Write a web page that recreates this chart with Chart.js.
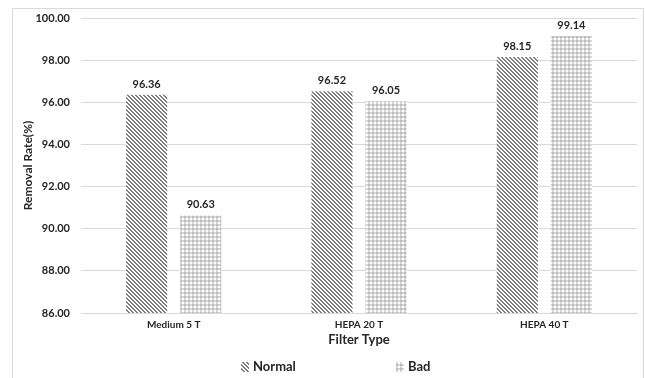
<!DOCTYPE html>
<html><head><meta charset="utf-8">
<script src="https://cdn.jsdelivr.net/npm/chart.js@4"></script>
<style>html,body{margin:0;padding:0;background:#fff;}#wrap{width:645px;height:378px;position:relative;}</style>
</head><body><div id="wrap"><canvas id="c" width="645" height="378"></canvas></div>
<script>
const categories = ["Medium 5 T", "HEPA 20 T", "HEPA 40 T"];
const normalValues = [96.36, 96.52, 98.15];
const badValues = [90.63, 96.05, 99.14];
const seriesNames = ["Normal", "Bad"];
const yTicks = [86, 88, 90, 92, 94, 96, 98, 100];

const FONT = "Lato, 'Liberation Sans', sans-serif";

function makeDiag() {
  const c = document.createElement('canvas'); c.width = 4; c.height = 4;
  const x = c.getContext('2d');
  x.fillStyle = '#ffffff'; x.fillRect(0,0,4,4);
  x.fillStyle = '#7f7f7f';
  for (let i = 0; i < 4; i++) { x.fillRect(i, i, 1, 1); x.fillRect((i+1)%4, i, 1, 1); }
  return x.createPattern(c, 'repeat');
}
function makeGrid() {
  const c = document.createElement('canvas'); c.width = 4; c.height = 4;
  const x = c.getContext('2d');
  x.fillStyle = '#ffffff'; x.fillRect(0,0,4,4);
  x.fillStyle = '#d6d6d6';
  x.fillRect(0,0,4,2); x.fillRect(0,0,2,4);
  x.fillStyle = '#bcbcbc'; x.fillRect(0,0,2,2);
  return x.createPattern(c, 'repeat');
}
const diag = makeDiag();
const grid = makeGrid();
const fills = [diag, grid];

const borderPlugin = {
  id: 'outerBorder',
  beforeDraw(chart) {
    const ctx = chart.ctx;
    ctx.save();
    ctx.strokeStyle = '#d9d9d9'; ctx.lineWidth = 1;
    ctx.strokeRect(12.5, 8.5, 631, 400);
    ctx.restore();
  }
};

const labelPlugin = {
  id: 'valueLabels',
  afterDatasetsDraw(chart) {
    const ctx = chart.ctx;
    ctx.save();
    ctx.font = "bold 11px " + FONT;
    ctx.fillStyle = '#262626';
    ctx.textAlign = 'center';
    ctx.textBaseline = 'bottom';
    chart.data.datasets.forEach((ds, di) => {
      const meta = chart.getDatasetMeta(di);
      meta.data.forEach((bar, i) => {
        ctx.fillText(ds.data[i].toFixed(2), bar.x, bar.y - 5);
      });
    });
    ctx.restore();
  }
};

const legendPlugin = {
  id: 'customLegend',
  afterDraw(chart) {
    const ctx = chart.ctx;
    ctx.save();
    ctx.font = "bold 13px " + FONT;
    ctx.textBaseline = 'middle';
    const y = 367;
    const starts = [241, 396];
    seriesNames.forEach((name, i) => {
      ctx.fillStyle = fills[i];
      ctx.fillRect(starts[i], y - 5, 8, 10);
      ctx.fillStyle = '#262626';
      ctx.textAlign = 'left';
      ctx.fillText(name, starts[i] + 12, y);
    });
    ctx.restore();
  }
};

new Chart(document.getElementById('c'), {
  type: 'bar',
  data: {
    labels: categories,
    datasets: [
      { label: seriesNames[0], data: normalValues, backgroundColor: diag, borderWidth: 0 },
      { label: seriesNames[1], data: badValues, backgroundColor: grid, borderWidth: 0 }
    ]
  },
  options: {
    responsive: false,
    animation: false,
    devicePixelRatio: 1,
    categoryPercentage: 0.584,
    barPercentage: 0.76,
    layout: { padding: { left: 0, right: 8, top: 18, bottom: 28 } },
    plugins: { legend: { display: false }, tooltip: { enabled: false } },
    scales: {
      x: {
        grid: { display: false, drawTicks: false },
        border: { display: true, color: '#d9d9d9' },
        ticks: { color: '#262626', font: { family: FONT, size: 10, weight: 'bold' }, padding: 6 },
        title: { display: true, text: 'Filter Type', color: '#262626', font: { family: FONT, size: 13, weight: 'bold' }, padding: { top: 2, bottom: 2 } },
        afterFit(s) { s.height = 37; }
      },
      y: {
        min: 86, max: 100,
        afterBuildTicks(s) { s.ticks = yTicks.map(v => ({ value: v })); },
        grid: { color: '#d9d9d9', drawTicks: false },
        border: { display: false },
        ticks: { color: '#262626', font: { family: FONT, size: 11, weight: 'bold' }, padding: 11,
                 callback: v => Number(v).toFixed(2) },
        title: { display: true, text: 'Removal Rate(%)', color: '#262626', font: { family: FONT, size: 12, weight: 'bold' }, padding: { top: 21, bottom: 0 } },
        afterFit(s) { s.width = 81; }
      }
    }
  },
  plugins: [borderPlugin, labelPlugin, legendPlugin]
});
</script></body></html>
